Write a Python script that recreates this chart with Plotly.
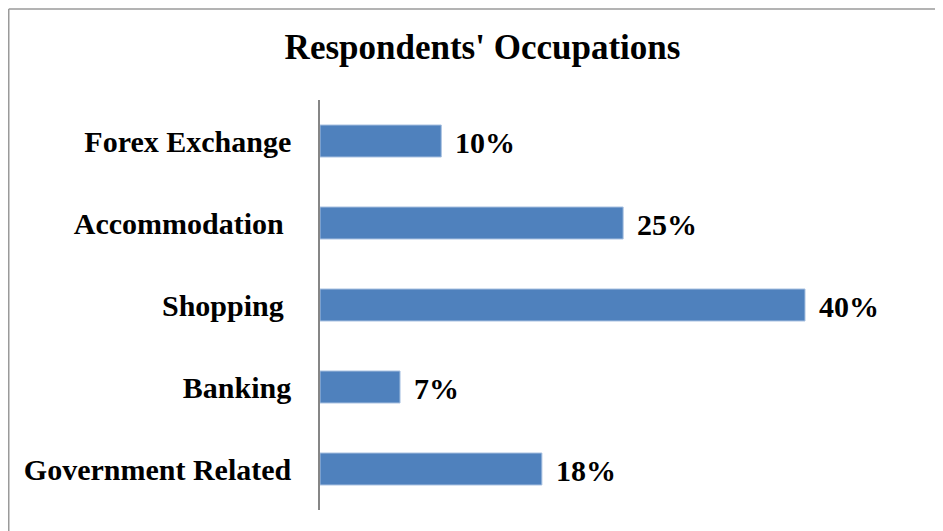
import plotly.graph_objects as go

categories = ["Forex Exchange", "Accommodation\u00a0", "Shopping\u00a0", "Banking", "Government Related"]
values = [10.0, 25.0, 40.0, 6.6, 18.3]
value_labels = ["10%", "25%", "40%", "7%", "18%"]

FONT = "Liberation Serif, Times New Roman, serif"
W, H = 935, 523
L, R, T, B = 312, 60, 92, 21
PW = W - L - R
XMAX = PW / 12.125

fig = go.Figure()
fig.add_trace(go.Bar(
    y=categories, x=values, orientation="h",
    marker=dict(color="#4F81BD", line=dict(color="#A7C0E0", width=1)),
    hoverinfo="skip", showlegend=False,
))
for c, v, t in zip(categories, values, value_labels):
    fig.add_annotation(x=v, y=c, text="<b>%s</b>" % t, showarrow=False,
                       xanchor="left", xshift=12, yshift=-1,
                       font=dict(family=FONT, size=30, color="#000000"))

def px_x(p):
    return (p - L) / PW
def px_y(p):
    return 1 - (p - T) / (H - T - B)

fig.add_shape(type="line", xref="paper", yref="paper",
              x0=px_x(0.75), x1=px_x(0.75), y0=px_y(1), y1=px_y(560),
              line=dict(color="#9a9a9a", width=1.5))
fig.add_shape(type="line", xref="paper", yref="paper",
              x0=px_x(0.75), x1=px_x(960), y0=px_y(1), y1=px_y(1),
              line=dict(color="#9a9a9a", width=1.5))

fig.update_layout(
    width=W, height=H,
    margin=dict(l=L, r=R, t=T, b=B),
    paper_bgcolor="white", plot_bgcolor="white",
    bargap=0.61,
    title=dict(text="<b>Respondents' Occupations</b>", x=474.5 / W, xanchor="center",
               y=1 - 39 / H, yanchor="middle",
               font=dict(family=FONT, size=35, color="#000000")),
    xaxis=dict(range=[0, XMAX], visible=False, showgrid=False, zeroline=False),
    yaxis=dict(autorange="reversed", showline=True, linecolor="#868686", linewidth=1.5,
               ticks="", showgrid=False, ticklabelstandoff=21,
               tickfont=dict(family=FONT, size=30, color="#000000"),
               tickprefix="<b>", ticksuffix="</b>"),
    font=dict(family=FONT),
)
fig.write_html("out.html")
